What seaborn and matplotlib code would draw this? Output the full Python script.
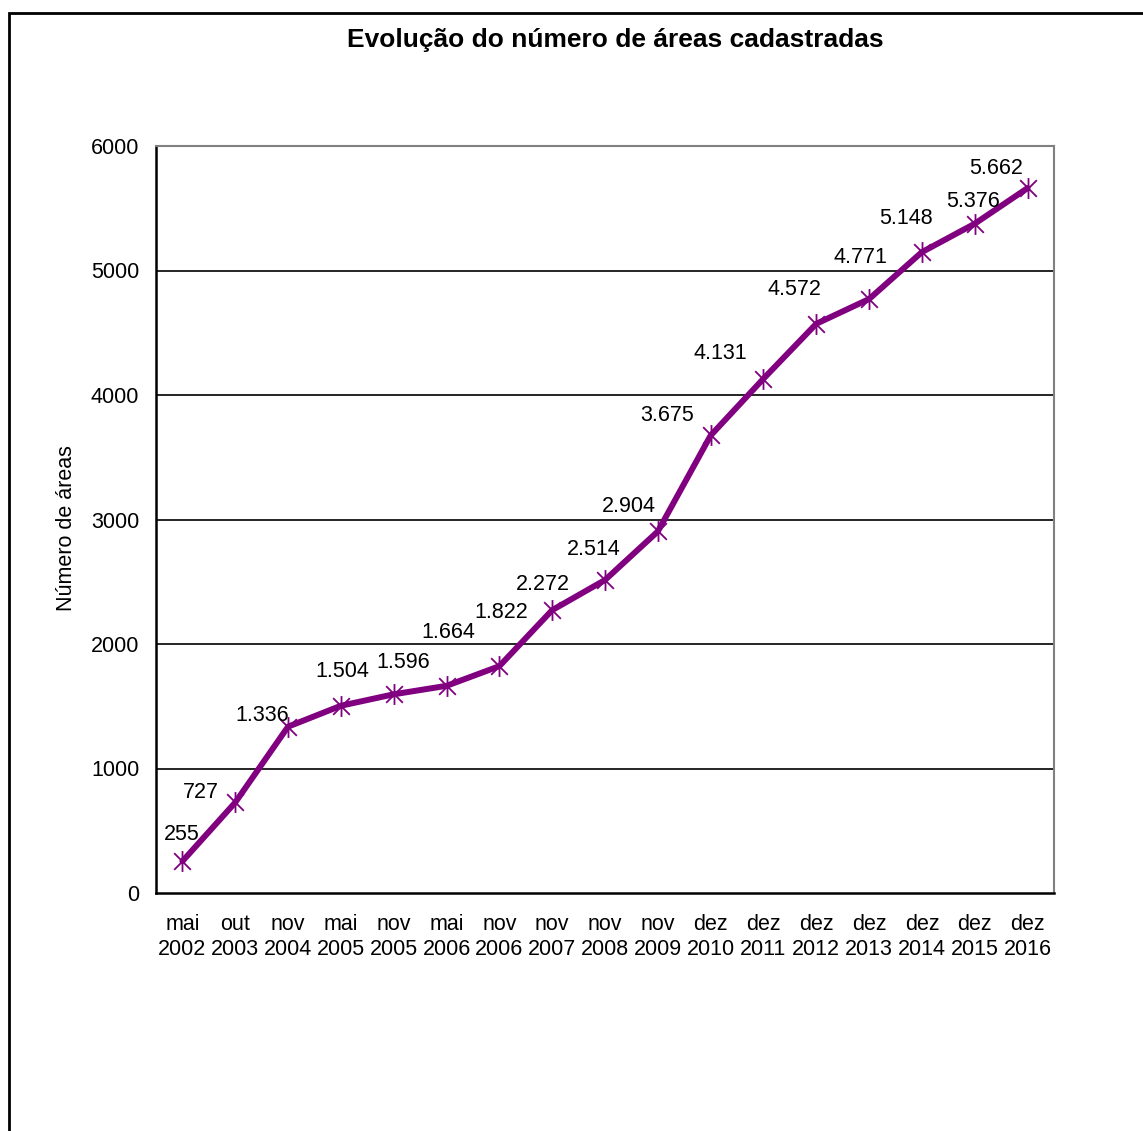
import matplotlib
matplotlib.use("Agg")
import matplotlib.pyplot as plt
from matplotlib.path import Path
from matplotlib.patches import Rectangle
from matplotlib.ticker import FixedLocator, NullFormatter
import seaborn as sns
import pandas as pd

# ---- data ----
categories = ["mai\n2002", "out\n2003", "nov\n2004", "mai\n2005", "nov\n2005",
              "mai\n2006", "nov\n2006", "nov\n2007", "nov\n2008", "nov\n2009",
              "dez\n2010", "dez\n2011", "dez\n2012", "dez\n2013", "dez\n2014",
              "dez\n2015", "dez\n2016"]
values = [255, 727, 1336, 1504, 1596, 1664, 1822, 2272, 2514, 2904,
          3675, 4131, 4572, 4771, 5148, 5376, 5662]
y_ticks = [0, 1000, 2000, 3000, 4000, 5000, 6000]
title = "Evolução do número de áreas cadastradas"
y_label = "Número de áreas"

# label offsets in pixels (style)
label_offsets = [(-1, 27), (-34, 10), (-26, 11), (1, 34), (9, 32), (2, 53),
                 (2, 54), (-9, 26), (-11, 31), (-29, 25), (-44, 20), (-43, 25),
                 (-22, 34), (-9, 42), (-16, 34), (-2, 22), (-31, 20)]

sns.set_style("white")
plt.rcParams["font.family"] = ["Liberation Sans", "DejaVu Sans"]
for k in ["text.color", "xtick.color", "ytick.color", "axes.labelcolor"]:
    plt.rcParams[k] = "black"

W, H = 1143, 1131
FS = 15.5
fig = plt.figure(figsize=(W / 100, H / 100), dpi=100)
ax = fig.add_axes([156 / W, 1 - 893 / H, (1054 - 156) / W, (893 - 146) / H])

df = pd.DataFrame({"idx": list(range(len(values))), "val": values})

star = Path([(-1, -1), (1, 1), (-1, 1), (1, -1), (0, -1.25), (0, 1.25)],
            [Path.MOVETO, Path.LINETO, Path.MOVETO, Path.LINETO, Path.MOVETO, Path.LINETO])

sns.lineplot(data=df, x="idx", y="val", ax=ax, color="#800080", linewidth=4.3,
             marker=star, markersize=15, markeredgecolor="#800080",
             markerfacecolor="none", markeredgewidth=1.3, zorder=3)

for i, v in enumerate(values):
    txt = f"{v:,}".replace(",", ".")
    dx, dy = label_offsets[i]
    ax.annotate(txt, (i, v), xytext=(dx, dy), textcoords="offset pixels",
                ha="center", va="center", fontsize=FS, color="black", zorder=4)

ax.set_xlim(-0.5, len(values) - 0.5)
ax.set_ylim(0, 6000)
ax.set_yticks(y_ticks)
ax.set_yticklabels([str(t) for t in y_ticks], fontsize=FS)
ax.set_xticks(range(len(values)))
ax.set_xticklabels(categories, fontsize=FS, linespacing=1.25)
ax.xaxis.set_minor_locator(FixedLocator([i - 0.5 for i in range(len(values) + 1)]))
ax.xaxis.set_minor_formatter(NullFormatter())
ax.tick_params(axis="x", which="major", length=0, pad=15)
ax.tick_params(axis="x", which="minor", length=6, width=1.5, color="black", direction="out")
ax.tick_params(axis="y", which="major", length=6, width=1.5, color="black", direction="out", pad=6)

ax.set_xlabel("")
ax.set_ylabel(y_label, fontsize=FS)
ax.yaxis.set_label_coords((67 - 156) / 898, (893 - 528) / 747)
ax.yaxis.label.set_va("center")

for yv in y_ticks[1:-1]:
    ax.axhline(yv, color="black", linewidth=1.2, zorder=1)

ax.set_facecolor("white")
for side in ["top", "right"]:
    ax.spines[side].set_color("#808080")
    ax.spines[side].set_linewidth(1.5)
    ax.spines[side].set_visible(True)
for side in ["left", "bottom"]:
    ax.spines[side].set_color("black")
    ax.spines[side].set_linewidth(1.8)
    ax.spines[side].set_visible(True)

fig.text(615 / W, 1 - 40 / H, title, ha="center", va="center",
         fontsize=19, fontweight="bold")

fig.patches.append(Rectangle((9 / W, -0.1), 1.2, 1 - 13 / H + 0.1,
                             transform=fig.transFigure, fill=False,
                             edgecolor="black", linewidth=2, zorder=10))

fig.savefig("out.png", dpi=100)
